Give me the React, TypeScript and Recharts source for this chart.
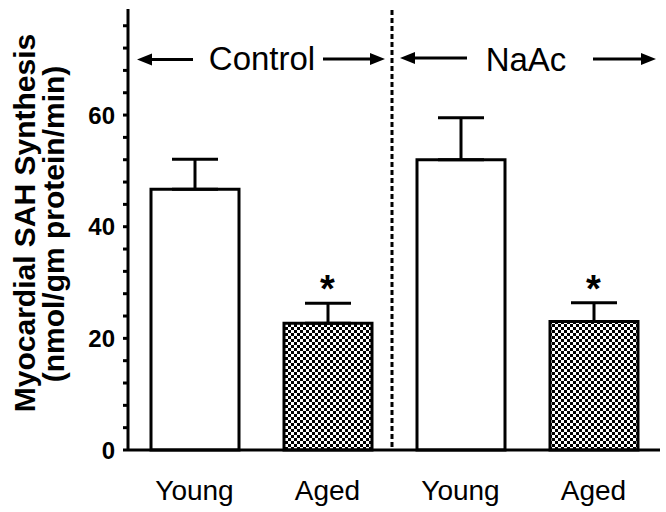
import React from 'react';
import {
  ComposedChart,
  Bar,
  Line,
  XAxis,
  YAxis,
  ErrorBar,
  Cell,
  LabelList,
  Customized,
} from 'recharts';

// values
const groups = ['Control', 'Control', 'NaAc', 'NaAc'];
const ages = ['Young', 'Aged', 'Young', 'Aged'];
const means = [46.7, 22.7, 52.0, 23.0];
const sems = [5.4, 3.6, 7.5, 3.4];
const significant = [false, true, false, true];
const yTicks = [0, 4, 8, 12, 16, 20, 24, 28, 32, 36, 40, 44, 48, 52, 56, 60, 64, 68, 72, 76];
const labelledTicks = [0, 20, 40, 60];

const data = means.map((m, i) => ({
  key: `${groups[i]} ${ages[i]}`,
  age: ages[i],
  value: m,
  err: [0, sems[i]],
  starY: significant[i] ? m + sems[i] : null,
}));

const FONT = '"Liberation Sans", Arial, sans-serif';

const YTick = (props: any) => {
  const { x, y, payload } = props;
  if (!labelledTicks.includes(payload.value)) return null;
  return (
    <text x={x} y={y} dy="0.36em" textAnchor="end" fontFamily={FONT} fontWeight="bold" fontSize={24} fill="#000">
      {payload.value}
    </text>
  );
};

const Star = (props: any) => {
  const { x, y, value } = props;
  if (value == null) return null;
  return (
    <text x={x} y={y - 1} textAnchor="middle" fontFamily={FONT} fontWeight="bold" fontSize={38} fill="#000">
      *
    </text>
  );
};

const Arrow = ({ x1, x2, y }: { x1: number; x2: number; y: number }) => {
  // tip at x2
  const dir = x2 > x1 ? 1 : -1;
  const head = 15;
  return (
    <g>
      <line x1={x1} y1={y} x2={x2 - dir * head} y2={y} stroke="#000" strokeWidth={3} />
      <polygon points={`${x2},${y} ${x2 - dir * head},${y - 6} ${x2 - dir * head},${y + 6}`} fill="#000" />
    </g>
  );
};

// group divider, headers and arrows
const Headers = () => (
  <g>
    <line x1={392} y1={10} x2={392} y2={450} stroke="#000" strokeWidth={3} strokeDasharray="5 3" />
    <Arrow x1={193} x2={137} y={59.5} />
    <text x={262} y={70} textAnchor="middle" fontFamily={FONT} fontSize={33} fill="#000">Control</text>
    <Arrow x1={323} x2={385} y={59} />
    <Arrow x1={467} x2={400} y={58} />
    <text x={526} y={71} textAnchor="middle" fontFamily={FONT} fontSize={33} fill="#000">NaAc</text>
    <Arrow x1={593} x2={656} y={59} />
  </g>
);

const YLabel = () => (
  <g fontFamily={FONT} fontWeight="bold" fontSize={30} fill="#000">
    <text transform="translate(35,223) rotate(-90)" textAnchor="middle">Myocardial SAH Synthesis</text>
    <text transform="translate(64,224) rotate(-90)" textAnchor="middle">(nmol/gm protein/min)</text>
  </g>
);

export default function App() {
  return (
    <div style={{ position: 'absolute', left: 0, top: 0, background: '#fff' }}>
      <ComposedChart
        width={666}
        height={512}
        data={data}
        margin={{ top: 9, right: 6, bottom: 0, left: 0 }}
      >
        <defs>
          <pattern id="checker" width="6" height="6" patternUnits="userSpaceOnUse">
            <rect width="6" height="6" fill="#fff" />
            <rect x="0" y="0" width="3" height="3" fill="#000" />
            <rect x="3" y="3" width="3" height="3" fill="#000" />
          </pattern>
        </defs>
        <XAxis
          dataKey="key"
          height={62}
          tickFormatter={(v: string) => v.split(' ')[1]}
          tickLine={false}
          tickSize={0}
          tickMargin={30}
          axisLine={{ stroke: '#000', strokeWidth: 3 }}
          tick={{ fontFamily: FONT, fontSize: 28, fill: '#000' }}
          interval={0}
        />
        <YAxis
          width={128}
          domain={[0, 79]}
          ticks={yTicks}
          interval={0}
          tickSize={5}
          tickMargin={8}
          tick={<YTick />}
          tickLine={{ stroke: '#000', strokeWidth: 3 }}
          axisLine={{ stroke: '#000', strokeWidth: 3 }}
        />
        <Bar dataKey="value" barSize={88} stroke="#000" strokeWidth={3} isAnimationActive={false}>
          {data.map((d, i) => (
            <Cell key={`cell-${i}`} fill={d.age === 'Aged' ? 'url(#checker)' : '#fff'} />
          ))}
          <ErrorBar dataKey="err" width={23} stroke="#000" strokeWidth={3} direction="y" />
        </Bar>
        <Line dataKey="starY" stroke="none" dot={false} activeDot={false} isAnimationActive={false}>
          <LabelList dataKey="starY" content={<Star />} />
        </Line>
        <Customized component={Headers} />
        <Customized component={YLabel} />
      </ComposedChart>
    </div>
  );
}
